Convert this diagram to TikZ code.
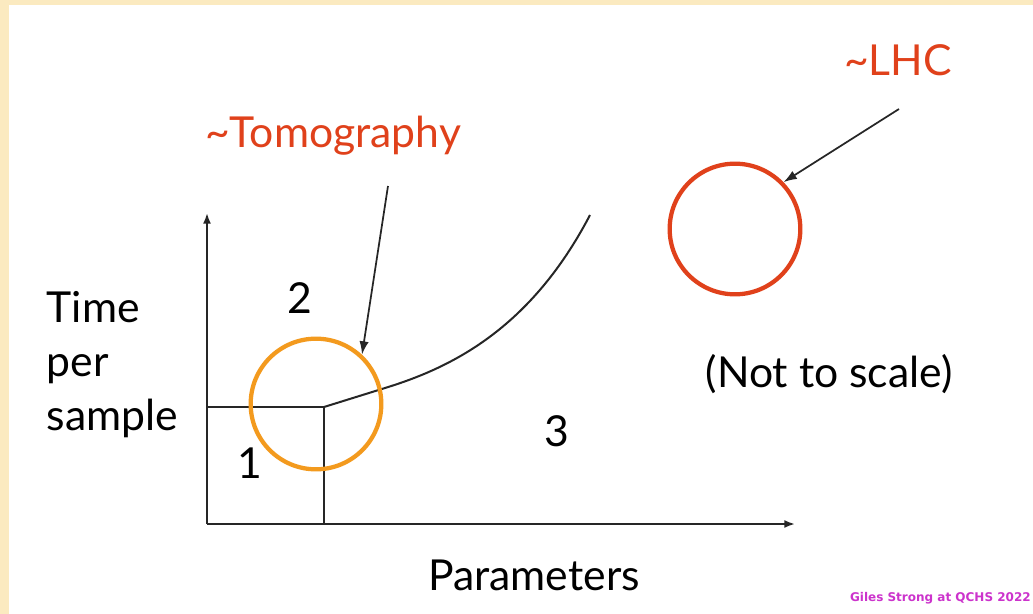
\documentclass[tikz,border=0pt]{standalone}
\usepackage{fontspec}
\setmainfont{Lato}
\newfontfamily\creditfont{DejaVu Sans}
\usetikzlibrary{arrows,arrows.meta,positioning,calc,shapes}

\definecolor{slidebg}{HTML}{FBEAC0}
\definecolor{tomoorange}{HTML}{F39A1E}
\definecolor{lhcred}{HTML}{E0411B}
\definecolor{creditpink}{HTML}{CC33CC}

\tikzset{
  axisline/.style={draw=black!85, line width=1.5pt},
  axisarrow/.style={-{Latex[length=8pt,width=6pt]}},
  ring/.style={draw, circle, line width=3.2pt, minimum size=98pt, inner sep=0pt},
  bigtext/.style={font=\fontsize{32}{40.5}\selectfont},
  pointer/.style={-{Latex[length=10pt,width=7pt]}, line width=1.3pt, draw=black!85},
}

\begin{document}
\begin{tikzpicture}[x=0.75pt, y=-0.75pt]
    % Slide background
    \fill[slidebg] (0,0) rectangle (1033,614);
    \fill[white] (9,5) rectangle (1033,614);
    \useasboundingbox (0,0) rectangle (1033,614);

    % Axes and regions
    \coordinate (origin) at (207,524);
    \coordinate (ytip) at (207,213);
    \coordinate (xtip) at (795,524);
    \coordinate (knee) at (324,407);
    \coordinate (kneeleft) at (207,407);
    \coordinate (kneebase) at (324,524);
    \coordinate (bend) at (385,388);
    \coordinate (curveend) at (590,215);

    \draw[axisline, axisarrow] (origin) -- (ytip);
    \draw[axisline, axisarrow] (origin) -- (xtip);
    \draw[axisline] (kneeleft) -- (knee) -- (kneebase);
    \draw[axisline] (knee) -- (bend) .. controls (450,368) and (530,330) .. (curveend);

    % Axis labels
    \node[bigtext, align=left, anchor=west] (ylabel) at (42,365) {Time\\per\\sample};
    \node[bigtext] (xlabel) at (534,575) {Parameters};

    % Region numbers
    \node[bigtext] (regtwo) at (300,298) {2};
    \node[bigtext] (regone) at (250,463) {1};
    \node[bigtext] (regthree) at (557,431) {3};

    % Rings
    \node[ring, draw=tomoorange] (tomoring) at (316,404) {};
    \node[ring, draw=lhcred] (lhcring) at (735,229) {};

    % Callouts
    \node[bigtext, text=lhcred] (tomolabel) at (333,136) {\textasciitilde Tomography};
    \node[bigtext, text=lhcred] (lhclabel) at (898,60) {\textasciitilde LHC};
    \coordinate (tomotail) at (388,186);
    \coordinate (lhctail) at (899,109);
    \draw[pointer] (tomotail) -- (tomoring.47);
    \draw[pointer] (lhctail) -- (lhcring.44);

    \node[bigtext] (scalenote) at (829,374) {(Not to scale)};

    % Credit
    \node[anchor=south east, inner sep=0pt, text=creditpink, font=\creditfont\bfseries\fontsize{9}{10}\selectfont] (credit) at (1031,604) {Giles Strong at QCHS 2022};
\end{tikzpicture}
\end{document}
